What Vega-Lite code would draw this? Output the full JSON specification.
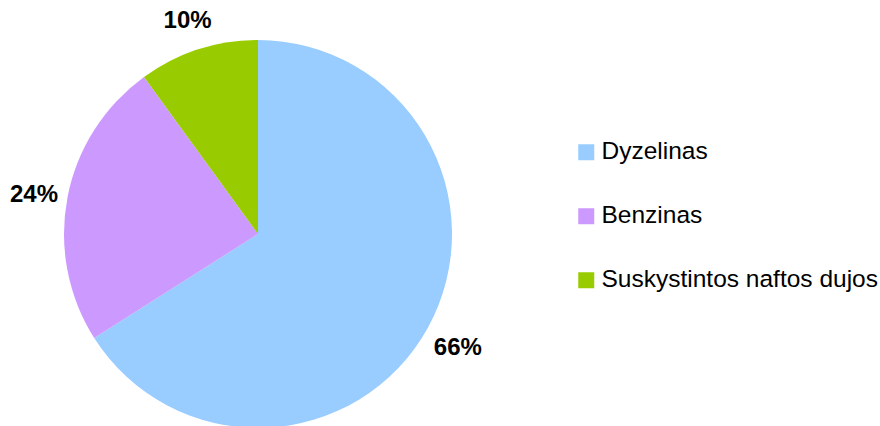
{
  "$schema": "https://vega.github.io/schema/vega-lite/v6.json",
  "autosize": {"type": "none"},
  "width": 388,
  "height": 388,
  "padding": {"left": 64, "top": 40, "right": 428, "bottom": 0},
  "background": "white",
  "config": {"view": {"stroke": null}, "font": "Liberation Sans"},
  "data": {
    "values": [
      {"kind": "Dyzelinas", "share": 66, "label": "66%", "order": 1},
      {"kind": "Benzinas", "share": 24, "label": "24%", "order": 2},
      {"kind": "Suskystintos naftos dujos", "share": 10, "label": "10%", "order": 3}
    ]
  },
  "encoding": {
    "theta": {"field": "share", "type": "quantitative", "stack": true},
    "order": {"field": "order", "type": "quantitative"},
    "color": {
      "field": "kind",
      "type": "nominal",
      "scale": {
        "domain": ["Dyzelinas", "Benzinas", "Suskystintos naftos dujos"],
        "range": ["#99CCFF", "#CC99FF", "#99CC00"]
      },
      "legend": {
        "title": null,
        "orient": "none",
        "legendX": 510,
        "legendY": 100,
        "padding": 0,
        "symbolType": "square",
        "symbolSize": 256,
        "symbolStrokeWidth": 0,
        "symbolOpacity": 1,
        "labelFont": "Liberation Sans",
        "labelFontSize": 24.5,
        "labelColor": "#000000",
        "labelOffset": 3,
        "labelLimit": 400,
        "rowPadding": 39
      }
    }
  },
  "layer": [
    {"mark": {"type": "arc", "outerRadius": 194, "stroke": null}},
    {
      "mark": {"type": "text", "radius": 228, "dy": 4, "fontSize": 24, "fontWeight": "bold", "font": "Liberation Sans", "fill": "#000000", "align": "center", "baseline": "middle"},
      "encoding": {
        "text": {"field": "label", "type": "nominal"},
        "color": {"value": "#000000"}
      }
    }
  ]
}
